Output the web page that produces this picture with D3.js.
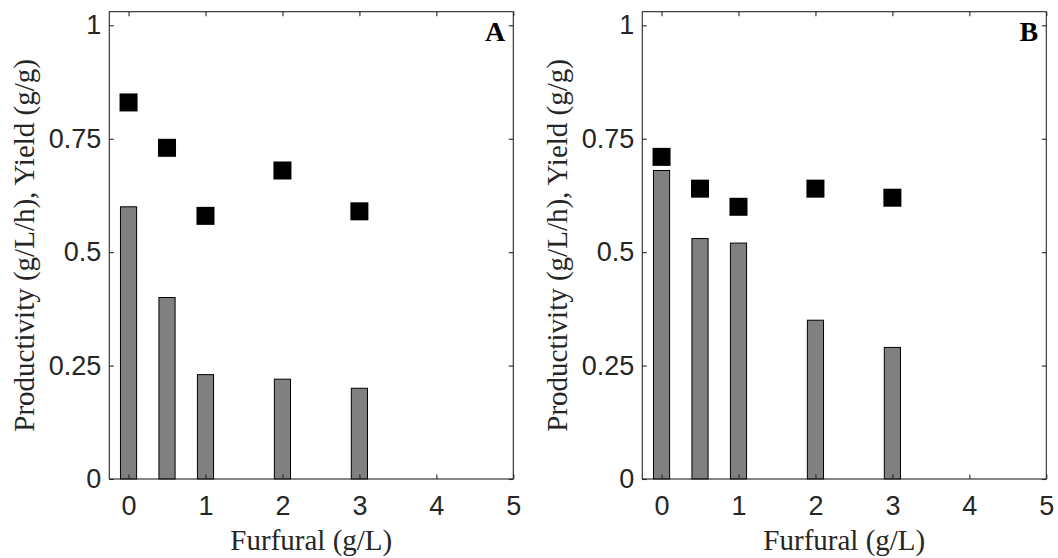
<!DOCTYPE html>
<html>
<head>
<meta charset="utf-8">
<script src="https://cdn.jsdelivr.net/npm/d3@7/dist/d3.min.js"></script>
<style>
  html, body { margin: 0; padding: 0; background: #fff; }
  svg { display: block; }
  .tick text { font-family: "Liberation Sans", Arial, sans-serif; font-size: 27px; fill: #262626; }
</style>
</head>
<body>
<svg id="chart" width="1058" height="558"></svg>
<script>
// Furfural concentrations (g/L) tested
const furfural = [0, 0.5, 1, 2, 3];

// Panel A
const productivityA = [0.60, 0.40, 0.23, 0.22, 0.20];
const yieldA = [0.83, 0.73, 0.58, 0.68, 0.59];

// Panel B
const productivityB = [0.68, 0.53, 0.52, 0.35, 0.29];
const yieldB = [0.71, 0.64, 0.60, 0.64, 0.62];

const xTicks = [0, 1, 2, 3, 4, 5];
const yTicks = [0, 0.25, 0.5, 0.75, 1];
const yTickLabels = ["0", "0.25", "0.5", "0.75", "1"];

const panels = [
  { letter: "A", left: 109.3, prod: productivityA, yld: yieldA },
  { letter: "B", left: 642.3, prod: productivityB, yld: yieldB }
];

const svg = d3.select("#chart");
const plotW = 404, plotTop = 11.7, plotBottom = 479;
const axisColor = "#262626";
const barWidthUnits = 0.21;
const markerSize = 18;

panels.forEach(p => {
  const x = d3.scaleLinear().domain([-0.25, 5]).range([p.left, p.left + plotW]);
  const y = d3.scaleLinear().domain([0, 1.03]).range([plotBottom, plotTop]);
  const g = svg.append("g");

  // bars: productivity
  const bw = x(barWidthUnits) - x(0);
  g.selectAll("rect.bar").data(furfural).join("rect")
    .attr("class", "bar")
    .attr("x", (d) => x(d) - bw / 2)
    .attr("y", (d, i) => y(p.prod[i]))
    .attr("width", bw)
    .attr("height", (d, i) => y(0) - y(p.prod[i]))
    .attr("fill", "#808080")
    .attr("stroke", "#000")
    .attr("stroke-width", 1);

  // square markers: yield
  g.selectAll("rect.mk").data(furfural).join("rect")
    .attr("class", "mk")
    .attr("x", (d) => x(d) - markerSize / 2)
    .attr("y", (d, i) => y(p.yld[i]) - markerSize / 2)
    .attr("width", markerSize)
    .attr("height", markerSize)
    .attr("fill", "#000");

  // axes with inward ticks on all four sides
  const tl = 4.5;
  const axB = d3.axisBottom(x).tickValues(xTicks).tickSize(-tl).tickPadding(17).tickFormat(d3.format("d"));
  const axT = d3.axisTop(x).tickValues(xTicks).tickSize(-tl).tickFormat("");
  const axL = d3.axisLeft(y).tickValues(yTicks).tickSize(-tl).tickPadding(8)
    .tickFormat((d, i) => yTickLabels[i]);
  const axR = d3.axisRight(y).tickValues(yTicks).tickSize(-tl).tickFormat("");

  const styleAxis = sel => {
    sel.attr("font-size", 27).attr("font-family", "Liberation Sans, Arial, sans-serif");
    sel.selectAll("path, line").attr("stroke", axisColor).attr("stroke-width", 1.1);
  };
  g.append("g").attr("transform", `translate(0,${plotBottom})`).call(axB).call(styleAxis)
    .selectAll("text").attr("dy", "0.71em");
  g.append("g").attr("transform", `translate(0,${plotTop})`).call(axT).call(styleAxis);
  g.append("g").attr("transform", `translate(${p.left},0)`).call(axL).call(styleAxis);
  g.append("g").attr("transform", `translate(${p.left + plotW},0)`).call(axR).call(styleAxis);
  g.selectAll(".domain").attr("d", null);
  g.append("rect")
    .attr("x", p.left).attr("y", plotTop)
    .attr("width", plotW).attr("height", plotBottom - plotTop)
    .attr("fill", "none").attr("stroke", axisColor).attr("stroke-width", 1.1);

  // axis titles
  g.append("text")
    .attr("x", p.left + plotW / 2).attr("y", 550)
    .attr("text-anchor", "middle")
    .attr("fill", axisColor)
    .attr("font-family", "Liberation Serif, Times New Roman, serif")
    .attr("font-size", 29)
    .text("Furfural (g/L)");

  g.append("text")
    .attr("transform", `translate(${p.left - 75},${(plotTop + plotBottom) / 2}) rotate(-90)`)
    .attr("text-anchor", "middle")
    .attr("fill", axisColor)
    .attr("font-family", "Liberation Serif, Times New Roman, serif")
    .attr("font-size", 29)
    .text("Productivity (g/L/h), Yield (g/g)");

  // panel letter
  g.append("text")
    .attr("x", p.left + plotW - 8).attr("y", 41)
    .attr("text-anchor", "end")
    .attr("fill", "#000")
    .attr("font-family", "Liberation Serif, Times New Roman, serif")
    .attr("font-weight", "bold")
    .attr("font-size", 28)
    .text(p.letter);
});
</script>
</body>
</html>
